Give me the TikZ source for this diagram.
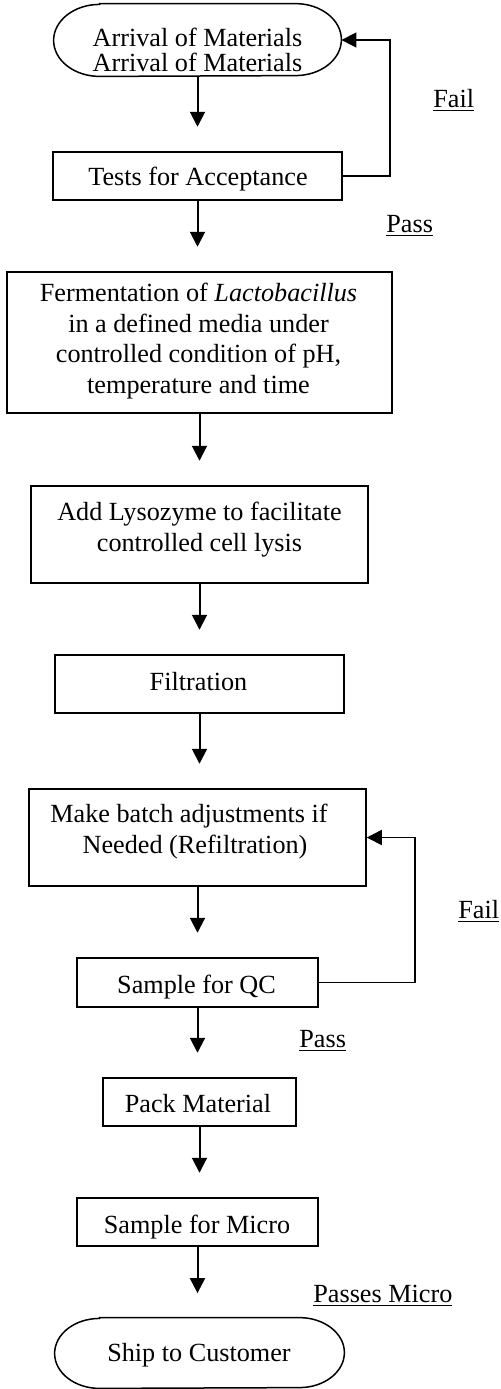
\documentclass[tikz,border=0pt]{standalone}
\usepackage{fontspec}
\setmainfont{Liberation Serif}
\usetikzlibrary{arrows.meta,calc}
\newcommand{\termshape}[3]{%
  \draw[line] ([xshift=#2]#1.north west) -- ([xshift=-#2]#1.north east)
    arc[start angle=90,end angle=-90,x radius=#2,y radius=#3]
    -- ([xshift=#2]#1.south west)
    arc[start angle=270,end angle=90,x radius=#2,y radius=#3] -- cycle;}
\begin{document}
\begin{tikzpicture}[x=0.5pt,y=-0.5pt,
  line/.style={draw=black,line width=0.75pt},
  box/.style={line, rectangle, inner sep=0pt},
  shell/.style={rectangle, inner sep=0pt, draw=none},
  txt/.style={inner sep=0pt, align=center, anchor=base, font=\fontsize{13.1}{15.3}\selectfont},
  lab/.style={inner sep=0pt, anchor=base west, font=\fontsize{13.1}{15.3}\selectfont},
  arr/.style={line, -{Triangle[length=7.5pt,width=7.5pt]}},
  downarr/.style={arr, line width=1pt}]
\useasboundingbox (0,0) rectangle (500,1389);
% shapes
\node[shell, minimum width=143.5pt, minimum height=36pt] (arrv) at (197.5,40) {};
\termshape{arrv}{23pt}{18pt}
\node[box, minimum width=144.5pt, minimum height=24pt] (tests) at (197.5,176) {};
\node[box, minimum width=192.5pt, minimum height=70.5pt] (ferm) at (199.5,342.5) {};
\node[box, minimum width=168.5pt, minimum height=48.5pt] (lys) at (199.5,534.5) {};
\node[box, minimum width=144.5pt, minimum height=29pt] (filt) at (199.5,684) {};
\node[box, minimum width=168.5pt, minimum height=48.5pt] (batch) at (197.5,837.5) {};
\node[box, minimum width=120.5pt, minimum height=24.5pt] (qc) at (197.5,982.5) {};
\node[box, minimum width=96.5pt, minimum height=24pt] (pack) at (199.5,1102) {};
\node[box, minimum width=120.5pt, minimum height=24pt] (micro) at (197.5,1222) {};
\node[shell, minimum width=144.5pt, minimum height=35pt] (ship) at (199.5,1353) {};
\termshape{ship}{22.5pt}{17.5pt}
% texts
\node[txt, font=\fontsize{13.1}{12.5}\selectfont] (arrvT) at (197.5,71.7) {Arrival of Materials\\Arrival of Materials};
\node[txt] (testsT) at (198,185) {Tests for Acceptance};
\node[txt] (fermT) at (198.5,393.3) {Fermentation of \textit{Lactobacillus}\\in a defined media under\\controlled condition of pH,\\temperature and time};
\node[txt, font=\fontsize{13.1}{15.8}\selectfont] (lysT) at (199.5,551.7) {Add Lysozyme to facilitate\\controlled cell lysis};
\node[txt] (filtT) at (198.5,690) {Filtration};
\node[txt, font=\fontsize{13.1}{15.5}\selectfont] (batchT) at (197.5,853.3) {Make batch adjustments if\hspace*{8.5pt}\\Needed (Refiltration)\hspace*{2.5pt}};
\node[txt] (qcT) at (196.5,993) {Sample for QC};
\node[txt] (packT) at (198,1112) {Pack Material};
\node[txt] (microT) at (197,1233) {Sample for Micro};
\node[txt] (shipT) at (199,1361) {Ship to Customer};
% labels
\node[lab] (fail1) at (433,107) {\underline{Fail}};
\node[lab] (pass1) at (386,232) {\underline{Pass}};
\node[lab] (fail2) at (458,918) {\underline{Fail}};
\node[lab] (pass2) at (299,1047) {\underline{Pass}};
\node[lab] (passm) at (313,1302) {\underline{Passes Micro}};
% down arrows
\foreach \a/\b in {arrv/tests,tests/ferm,ferm/lys,lys/filt,filt/batch,batch/qc,qc/pack,pack/micro,micro/ship}
  \draw[downarr] (\a.south) -- ($(\a.south |- \b.north)+(0,12.25pt)$);
% fail loops
\draw[arr] (tests.east) -- ++(47,0) |- (arrv.east);
\draw[arr] (qc.east) -- ++(96,0) |- (batch.east);
\end{tikzpicture}
\end{document}
